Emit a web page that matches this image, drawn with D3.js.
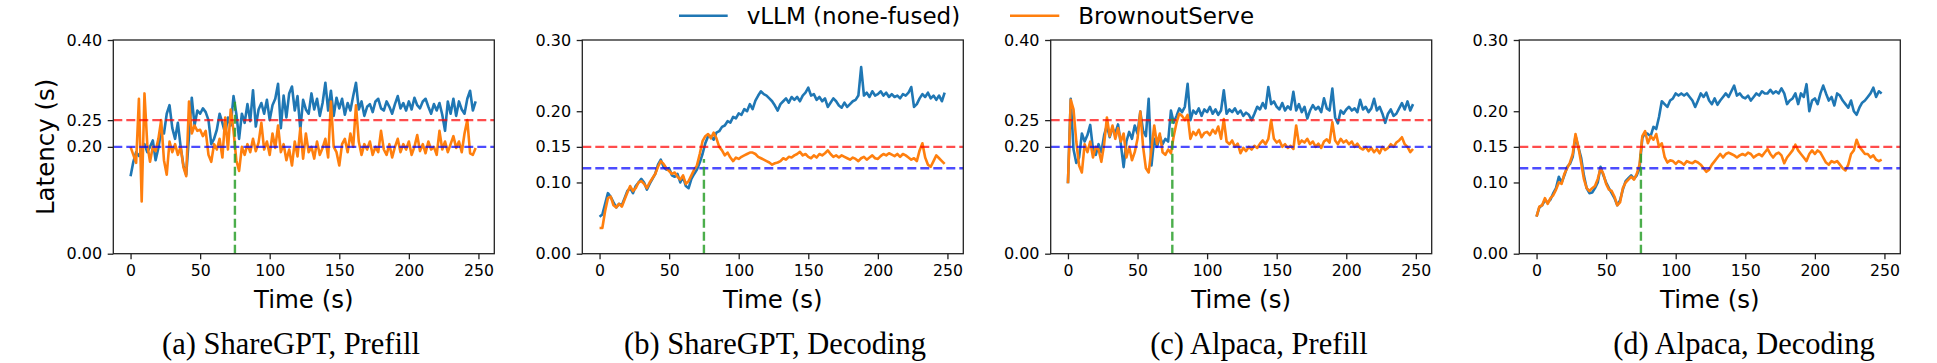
<!DOCTYPE html>
<html>
<head>
<meta charset="utf-8">
<script src="https://cdn.jsdelivr.net/npm/d3@7"></script>
<style>
  body { margin: 0; background: #fff; }
  svg text { font-family: "DejaVu Sans", sans-serif; fill: #000; }
</style>
</head>
<body>
<div id="chart"></div>
<script>
// sample times, one point every 2 s
const times = d3.range(0, 250, 2);

const seriesNames = ["vLLM (none-fused)", "BrownoutServe"];
const xTicks = [0, 50, 100, 150, 200, 250];

// (a) ShareGPT, Prefill
const vllmA = [
  0.145, 0.172, 0.190, 0.183, 0.195, 0.205, 0.190, 0.200, 0.212, 0.175,
  0.198, 0.230, 0.225, 0.262, 0.278, 0.235, 0.215, 0.245, 0.200, 0.165,
  0.148, 0.220, 0.292, 0.240, 0.268, 0.262, 0.272, 0.265, 0.250, 0.205,
  0.215, 0.232, 0.262, 0.245, 0.225, 0.255, 0.240, 0.295, 0.262, 0.215,
  0.262, 0.245, 0.280, 0.248, 0.306, 0.238, 0.270, 0.282, 0.262, 0.288,
  0.250, 0.278, 0.290, 0.318, 0.235, 0.296, 0.255, 0.300, 0.313, 0.268,
  0.295, 0.232, 0.288, 0.270, 0.262, 0.300, 0.270, 0.290, 0.258, 0.282,
  0.320, 0.268, 0.305, 0.258, 0.292, 0.272, 0.290, 0.260, 0.282, 0.268,
  0.295, 0.320, 0.270, 0.285, 0.258, 0.275, 0.280, 0.265, 0.285, 0.290,
  0.272, 0.268, 0.285, 0.275, 0.262, 0.280, 0.295, 0.272, 0.282, 0.268,
  0.285, 0.270, 0.292, 0.278, 0.272, 0.285, 0.290, 0.275, 0.262, 0.280,
  0.268, 0.282, 0.260, 0.230, 0.285, 0.262, 0.290, 0.258, 0.285, 0.270,
  0.262, 0.290, 0.305, 0.268, 0.285
];
const brownA = [
  0.200, 0.185, 0.170, 0.290, 0.098, 0.300, 0.205, 0.172, 0.200, 0.192,
  0.215, 0.250, 0.175, 0.148, 0.210, 0.190, 0.205, 0.185, 0.200, 0.162,
  0.145, 0.285, 0.225, 0.240, 0.230, 0.232, 0.220, 0.230, 0.185, 0.172,
  0.205, 0.195, 0.215, 0.180, 0.255, 0.195, 0.270, 0.230, 0.175, 0.155,
  0.200, 0.185, 0.205, 0.190, 0.215, 0.192, 0.208, 0.245, 0.195, 0.210,
  0.185, 0.225, 0.198, 0.240, 0.190, 0.205, 0.175, 0.195, 0.165, 0.210,
  0.182, 0.235, 0.178, 0.225, 0.190, 0.200, 0.178, 0.210, 0.185, 0.198,
  0.215, 0.180, 0.285, 0.200, 0.190, 0.165, 0.205, 0.215, 0.190, 0.225,
  0.200, 0.278, 0.210, 0.185, 0.205, 0.195, 0.210, 0.185, 0.200, 0.190,
  0.230, 0.195, 0.185, 0.205, 0.180, 0.200, 0.215, 0.190, 0.205, 0.195,
  0.210, 0.185, 0.200, 0.222, 0.192, 0.205, 0.188, 0.210, 0.195, 0.200,
  0.185, 0.230, 0.195, 0.210, 0.190, 0.205, 0.220, 0.198, 0.210, 0.190,
  0.225, 0.250, 0.188, 0.185, 0.198
];

// (b) ShareGPT, Decoding
const vllmB = [
  0.052, 0.055, 0.070, 0.085, 0.080, 0.072, 0.065, 0.070, 0.068, 0.078,
  0.088, 0.092, 0.085, 0.095, 0.100, 0.105, 0.100, 0.090, 0.098, 0.105,
  0.112, 0.125, 0.132, 0.122, 0.118, 0.120, 0.110, 0.108, 0.112, 0.100,
  0.108, 0.095, 0.092, 0.105, 0.112, 0.118, 0.128, 0.140, 0.155, 0.165,
  0.165, 0.160, 0.170, 0.172, 0.178, 0.180, 0.186, 0.184, 0.192, 0.190,
  0.197, 0.195, 0.203, 0.200, 0.210, 0.203, 0.215, 0.222, 0.228, 0.224,
  0.222, 0.218, 0.214, 0.208, 0.201, 0.210, 0.214, 0.218, 0.212, 0.220,
  0.216, 0.220, 0.214, 0.222, 0.226, 0.233, 0.222, 0.224, 0.216, 0.220,
  0.214, 0.218, 0.206, 0.212, 0.218, 0.214, 0.208, 0.205, 0.212, 0.206,
  0.210, 0.214, 0.216, 0.222, 0.262, 0.222, 0.226, 0.220, 0.228, 0.222,
  0.224, 0.228, 0.222, 0.226, 0.220, 0.224, 0.220, 0.222, 0.218, 0.224,
  0.222, 0.226, 0.234, 0.206, 0.210, 0.218, 0.224, 0.220, 0.226, 0.218,
  0.222, 0.216, 0.222, 0.214, 0.226
];
const brownB = [
  0.036, 0.036, 0.060, 0.078, 0.080, 0.068, 0.065, 0.070, 0.066, 0.076,
  0.086, 0.095, 0.088, 0.092, 0.100, 0.102, 0.098, 0.092, 0.100, 0.106,
  0.112, 0.122, 0.130, 0.126, 0.120, 0.116, 0.112, 0.114, 0.108, 0.104,
  0.110, 0.098, 0.102, 0.110, 0.118, 0.124, 0.140, 0.158, 0.165, 0.168,
  0.162, 0.170, 0.162, 0.150, 0.145, 0.138, 0.142, 0.135, 0.130, 0.135,
  0.133, 0.136, 0.138, 0.140, 0.142, 0.142, 0.140, 0.136, 0.134, 0.132,
  0.130, 0.128, 0.125, 0.127, 0.128, 0.130, 0.134, 0.132, 0.136, 0.135,
  0.138, 0.140, 0.143, 0.138, 0.140, 0.136, 0.134, 0.138, 0.135, 0.140,
  0.138, 0.141, 0.145, 0.140, 0.136, 0.138, 0.135, 0.138, 0.136, 0.134,
  0.132, 0.135, 0.133, 0.130, 0.134, 0.136, 0.132, 0.135, 0.138, 0.134,
  0.133, 0.137, 0.140, 0.138, 0.141, 0.139, 0.137, 0.140, 0.136, 0.140,
  0.138, 0.135, 0.132, 0.134, 0.130, 0.145, 0.155, 0.135, 0.125, 0.122,
  0.130, 0.138, 0.134, 0.130, 0.126
];

// (c) Alpaca, Prefill
const vllmC = [
  0.132, 0.290, 0.195, 0.170, 0.180, 0.225, 0.210, 0.222, 0.241, 0.195,
  0.185, 0.205, 0.190, 0.222, 0.240, 0.218, 0.235, 0.225, 0.242, 0.205,
  0.162, 0.210, 0.228, 0.215, 0.240, 0.225, 0.266, 0.230, 0.220, 0.290,
  0.165, 0.215, 0.200, 0.220, 0.205, 0.215, 0.210, 0.268, 0.245, 0.258,
  0.272, 0.265, 0.275, 0.318, 0.250, 0.268, 0.262, 0.272, 0.258, 0.270,
  0.265, 0.275, 0.262, 0.270, 0.260, 0.268, 0.306, 0.262, 0.270, 0.265,
  0.272, 0.262, 0.268, 0.258, 0.264, 0.260, 0.250, 0.262, 0.275, 0.270,
  0.282, 0.272, 0.312, 0.280, 0.285, 0.275, 0.270, 0.282, 0.268, 0.276,
  0.270, 0.303, 0.268, 0.280, 0.265, 0.275, 0.253, 0.268, 0.278, 0.270,
  0.275, 0.265, 0.291, 0.272, 0.268, 0.309, 0.255, 0.244, 0.268, 0.262,
  0.270, 0.275, 0.268, 0.272, 0.265, 0.288, 0.270, 0.275, 0.265, 0.272,
  0.290, 0.268, 0.275, 0.262, 0.245, 0.262, 0.270, 0.258, 0.262, 0.272,
  0.282, 0.270, 0.285, 0.268, 0.280
];
const brownC = [
  0.132, 0.288, 0.270, 0.210, 0.165, 0.152, 0.205, 0.190, 0.210, 0.180,
  0.200, 0.195, 0.172, 0.205, 0.255, 0.220, 0.240, 0.215, 0.235, 0.210,
  0.225, 0.180, 0.200, 0.175, 0.190, 0.215, 0.266, 0.200, 0.160, 0.152,
  0.195, 0.240, 0.205, 0.225, 0.190, 0.185, 0.195, 0.188, 0.220, 0.245,
  0.262, 0.258, 0.250, 0.260, 0.215, 0.228, 0.222, 0.232, 0.218, 0.226,
  0.228, 0.222, 0.232, 0.225, 0.238, 0.215, 0.252, 0.210, 0.205, 0.212,
  0.200, 0.206, 0.188, 0.198, 0.192, 0.200, 0.195, 0.202, 0.198, 0.206,
  0.212, 0.205, 0.215, 0.250, 0.215, 0.208, 0.212, 0.200, 0.205, 0.198,
  0.202, 0.196, 0.240, 0.205, 0.212, 0.208, 0.215, 0.205, 0.210, 0.200,
  0.206, 0.198, 0.210, 0.214, 0.208, 0.246, 0.212, 0.205, 0.215, 0.208,
  0.212, 0.205, 0.210, 0.200, 0.206, 0.198, 0.195, 0.200, 0.192, 0.198,
  0.190, 0.196, 0.188, 0.200, 0.194, 0.198, 0.205, 0.200, 0.208, 0.212,
  0.218, 0.205, 0.200, 0.190, 0.196
];

// (d) Alpaca, Decoding
const vllmD = [
  0.052, 0.065, 0.068, 0.075, 0.072, 0.076, 0.085, 0.092, 0.108, 0.100,
  0.110, 0.122, 0.126, 0.136, 0.165, 0.150, 0.135, 0.110, 0.092, 0.085,
  0.086, 0.092, 0.100, 0.122, 0.110, 0.100, 0.092, 0.085, 0.078, 0.068,
  0.075, 0.090, 0.102, 0.106, 0.110, 0.105, 0.110, 0.120, 0.162, 0.170,
  0.168, 0.165, 0.178, 0.175, 0.192, 0.214, 0.210, 0.206, 0.215, 0.218,
  0.225, 0.222, 0.225, 0.222, 0.225, 0.220, 0.215, 0.206, 0.215, 0.225,
  0.220, 0.226, 0.215, 0.210, 0.218, 0.209, 0.215, 0.220, 0.225, 0.220,
  0.228, 0.236, 0.222, 0.225, 0.220, 0.218, 0.222, 0.215, 0.220, 0.225,
  0.222, 0.228, 0.225, 0.225, 0.230, 0.225, 0.228, 0.225, 0.232, 0.225,
  0.210, 0.215, 0.218, 0.225, 0.210, 0.225, 0.220, 0.238, 0.200, 0.215,
  0.218, 0.210, 0.225, 0.236, 0.225, 0.215, 0.220, 0.208, 0.225, 0.222,
  0.215, 0.210, 0.205, 0.215, 0.200, 0.195, 0.205, 0.212, 0.215, 0.220,
  0.225, 0.233, 0.220, 0.228, 0.225
];
const brownD = [
  0.052, 0.066, 0.068, 0.078, 0.070, 0.078, 0.082, 0.090, 0.100, 0.098,
  0.112, 0.120, 0.128, 0.140, 0.168, 0.150, 0.128, 0.105, 0.092, 0.088,
  0.092, 0.095, 0.105, 0.120, 0.112, 0.098, 0.090, 0.088, 0.080, 0.068,
  0.072, 0.092, 0.100, 0.104, 0.108, 0.104, 0.112, 0.125, 0.165, 0.172,
  0.155, 0.165, 0.160, 0.168, 0.150, 0.155, 0.136, 0.128, 0.131, 0.130,
  0.126, 0.130, 0.128, 0.125, 0.130, 0.128, 0.127, 0.130, 0.128, 0.125,
  0.120, 0.115, 0.118, 0.125, 0.130, 0.135, 0.140, 0.135, 0.140, 0.142,
  0.140, 0.138, 0.135, 0.138, 0.140, 0.138, 0.142, 0.140, 0.135, 0.138,
  0.140, 0.137, 0.142, 0.147, 0.140, 0.135, 0.140, 0.142, 0.138, 0.127,
  0.135, 0.140, 0.145, 0.153, 0.145, 0.140, 0.135, 0.130, 0.140, 0.145,
  0.140, 0.145, 0.142, 0.135, 0.128, 0.125, 0.130, 0.128, 0.130, 0.125,
  0.120, 0.117, 0.125, 0.140, 0.145, 0.160, 0.150, 0.145, 0.140, 0.140,
  0.135, 0.138, 0.132, 0.130, 0.132
];

// per panel: y range, y ticks, SLO lines, switch point at t = 75
const captions = ["(a) ShareGPT, Prefill", "(b) ShareGPT, Decoding", "(c) Alpaca, Prefill", "(d) Alpaca, Decoding"];
const yMaxes = [0.4, 0.3, 0.4, 0.3];
const yTickSets = [[0, 0.20, 0.25, 0.40], [0, 0.10, 0.15, 0.20, 0.30], [0, 0.20, 0.25, 0.40], [0, 0.10, 0.15, 0.20, 0.30]];
const redLevels = [0.25, 0.15, 0.25, 0.15];
const blueLevels = [0.20, 0.12, 0.20, 0.12];
const switchTime = 75;
const switchTops = [0.287, 0.133, 0.253, 0.145];
const panelSeries = [[vllmA, brownA], [vllmB, brownB], [vllmC, brownC], [vllmD, brownD]];

const colors = ["#1f77b4", "#ff7f0e"];

class Panel {
  constructor(svg, config) {
    this.svg = svg;
    this.config = config;
    this.g = svg.append("g")
      .attr("transform", `translate(${config.left},${config.top})`);
    this.createScales();
  }

  createScales() {
    let c = this.config;
    this.xScale = d3.scaleLinear().domain([-12.4, 261.4]).range([0, c.width]);
    this.yScale = d3.scaleLinear().domain([0, c.yMax]).range([c.height, 0]);
  }

  createAxis() {
    let c = this.config;
    let xAxis = d3.axisBottom(this.xScale).tickValues(xTicks).tickSize(5.6).tickPadding(5.4);
    let yAxis = d3.axisLeft(this.yScale).tickValues(c.yTicks).tickFormat(d3.format(".2f")).tickSize(5.6).tickPadding(5.6);

    let gx = this.g.append("g")
      .attr("transform", `translate(0,${c.height})`)
      .call(xAxis);
    gx.select(".domain").remove();
    gx.selectAll("line").attr("stroke", "#222").attr("stroke-width", 1.3);
    gx.selectAll("text").style("font-size", "15.7px");

    let gy = this.g.append("g").call(yAxis);
    gy.select(".domain").remove();
    gy.selectAll("line").attr("stroke", "#222").attr("stroke-width", 1.3);
    gy.selectAll("text").style("font-size", "16px");

    this.g.append("text")
      .attr("x", c.width / 2)
      .attr("y", 268)
      .attr("text-anchor", "middle")
      .style("font-size", "24.5px")
      .text("Time (s)");

    if (c.yLabel) {
      this.g.append("text")
        .attr("transform", `translate(${53.5 - c.left},${c.height / 2}) rotate(-90)`)
        .attr("text-anchor", "middle")
        .style("font-size", "24.5px")
        .text(c.yLabel);
    }
  }

  render() {
    let c = this.config;
    let line = d3.line()
      .x((d, i) => this.xScale(times[i]))
      .y(d => this.yScale(d));

    c.series.forEach((vals, k) => {
      this.g.append("path")
        .datum(vals)
        .attr("d", line)
        .attr("fill", "none")
        .attr("stroke", colors[k])
        .attr("stroke-width", 2.6)
        .attr("stroke-linejoin", "round");
    });

    // SLO thresholds
    [[c.red, "#ff0000"], [c.blue, "#0000ff"]].forEach(([lvl, col]) => {
      this.g.append("line")
        .attr("x1", 0).attr("x2", c.width)
        .attr("y1", this.yScale(lvl)).attr("y2", this.yScale(lvl))
        .attr("stroke", col)
        .attr("stroke-opacity", 0.7)
        .attr("stroke-width", 2.4)
        .attr("stroke-dasharray", "9,4");
    });

    this.g.append("line")
      .attr("x1", this.xScale(switchTime)).attr("x2", this.xScale(switchTime))
      .attr("y1", this.yScale(0)).attr("y2", this.yScale(c.switchTop))
      .attr("stroke", "#2ca02c")
      .attr("stroke-opacity", 0.85)
      .attr("stroke-width", 2.4)
      .attr("stroke-dasharray", "9,4");

    this.g.append("rect")
      .attr("width", c.width)
      .attr("height", c.height)
      .attr("fill", "none")
      .attr("stroke", "#222")
      .attr("stroke-width", 1.3);

    this.svg.append("text")
      .attr("x", c.captionX)
      .attr("y", 354)
      .attr("text-anchor", "middle")
      .style("font-family", "'Liberation Serif', 'Times New Roman', serif")
      .style("font-size", "30.5px")
      .text(c.caption);
  }
}

function drawLegend(svg) {
  let items = [
    { x1: 679, x2: 727.7, tx: 746.7 },
    { x1: 1010, x2: 1059.3, tx: 1078.3 }
  ];
  items.forEach((it, k) => {
    svg.append("line")
      .attr("x1", it.x1).attr("x2", it.x2)
      .attr("y1", 15.7).attr("y2", 15.7)
      .attr("stroke", colors[k])
      .attr("stroke-width", 2.6);
    svg.append("text")
      .attr("x", it.tx)
      .attr("y", 24)
      .style("font-size", "23px")
      .text(seriesNames[k]);
  });
}

function main() {
  let svg = d3.select("#chart")
    .append("svg")
    .attr("width", 1937)
    .attr("height", 363);

  let lefts = [113.3, 582.3, 1050.7, 1519.3];
  let captionXs = [291, 775, 1259, 1744];

  lefts.forEach((left, i) => {
    let p = new Panel(svg, {
      left: left, top: 40, width: 381, height: 213.7,
      yMax: yMaxes[i], yTicks: yTickSets[i],
      red: redLevels[i], blue: blueLevels[i], switchTop: switchTops[i],
      series: panelSeries[i],
      caption: captions[i], captionX: captionXs[i],
      yLabel: i === 0 ? "Latency (s)" : null
    });
    p.createAxis();
    p.render();
  });

  drawLegend(svg);
}

main();
</script>
</body>
</html>
